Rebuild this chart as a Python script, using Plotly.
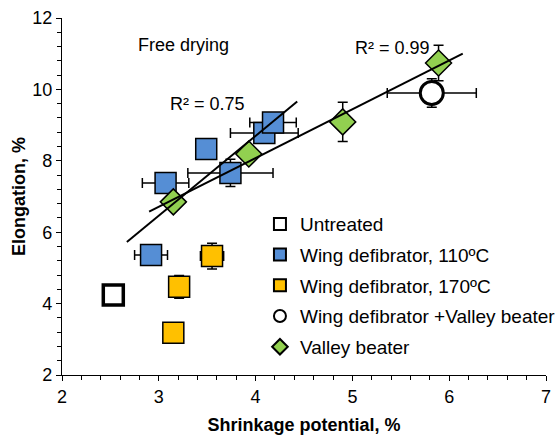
import numpy as np
import plotly.graph_objects as go

# ---- data ----
untreated_x = [2.53]
untreated_y = [4.24]

wd110_x = [2.92, 3.07, 3.49, 3.74, 4.09, 4.18]
wd110_y = [5.36, 7.38, 8.33, 7.66, 8.78, 9.07]
wd110_ex = [0.17, 0.24, 0.0, 0.44, 0.35, 0.24]
wd110_ey = [0.08, 0.25, 0.0, 0.38, 0.1, 0.1]

wd170_x = [3.55, 3.21, 3.15]
wd170_y = [5.33, 4.47, 3.18]
wd170_ex = [0.12, 0.05, 0.0]
wd170_ey = [0.36, 0.32, 0.0]

wdvb_x = [5.82]
wdvb_y = [9.90]
wdvb_ex = [0.46]
wdvb_ey = [0.40]

vb_x = [3.15, 3.93, 4.90, 5.89]
vb_y = [6.85, 8.19, 9.09, 10.74]
vb_ex = [0.0, 0.0, 0.0, 0.0]
vb_ey = [0.15, 0.15, 0.55, 0.50]

BLUE = "#558ED5"
YELLOW = "#FFC000"
GREEN = "#92D050"
FONT = "Liberation Sans, Arial, sans-serif"

fig = go.Figure()

def eb(arr):
    return dict(type="data", array=arr, visible=True, color="black", thickness=1.5, width=5)

fig.add_trace(go.Scatter(x=untreated_x, y=untreated_y, mode="markers", name="Untreated",
                         legendgroup="a",
                         marker=dict(symbol="square", size=20, color="white",
                                     line=dict(color="black", width=3.5))))
fig.add_trace(go.Scatter(x=wd110_x, y=wd110_y, mode="markers", name="Wing defibrator, 110ºC",
                         legendgroup="b", error_x=eb(wd110_ex), error_y=eb(wd110_ey),
                         marker=dict(symbol="square", size=21, color=BLUE,
                                     line=dict(color="black", width=1.5))))
fig.add_trace(go.Scatter(x=wd170_x, y=wd170_y, mode="markers", name="Wing defibrator, 170ºC",
                         legendgroup="c", error_x=eb(wd170_ex), error_y=eb(wd170_ey),
                         marker=dict(symbol="square", size=21, color=YELLOW,
                                     line=dict(color="black", width=1.5))))
fig.add_trace(go.Scatter(x=wdvb_x, y=wdvb_y, mode="markers", name="Wing defibrator +Valley beater",
                         legendgroup="d", error_x=eb(wdvb_ex), error_y=eb(wdvb_ey),
                         marker=dict(symbol="circle", size=23, color="white",
                                     line=dict(color="black", width=3))))
fig.add_trace(go.Scatter(x=vb_x, y=vb_y, mode="markers", name="Valley beater",
                         legendgroup="e", error_x=eb(vb_ex), error_y=eb(vb_ey),
                         marker=dict(symbol="diamond", size=20, color=GREEN,
                                     line=dict(color="black", width=1.5))))

# linear trendlines (extended 0.25 both ways)
for xs, ys in [(wd110_x, wd110_y), (vb_x, vb_y)]:
    k, b = np.polyfit(xs, ys, 1)
    lx = np.array([min(xs) - 0.25, max(xs) + 0.25])
    fig.add_trace(go.Scatter(x=lx, y=k * lx + b, mode="lines", showlegend=False,
                             line=dict(color="black", width=2), hoverinfo="skip"))

fig.add_annotation(x=2.76, y=11.24, text="Free drying", showarrow=False, xanchor="left",
                   font=dict(size=18, color="black", family=FONT))
fig.add_annotation(x=3.50, y=9.59, text="R² = 0.75", showarrow=False,
                   font=dict(size=18, color="black", family=FONT))
fig.add_annotation(x=5.41, y=11.16, text="R² = 0.99", showarrow=False,
                   font=dict(size=18, color="black", family=FONT))

axis_common = dict(showgrid=False, zeroline=False, showline=True, linecolor="black",
                   linewidth=1.3, ticks="outside", ticklen=5, tickcolor="black",
                   tickwidth=1.3, mirror=False,
                   tickfont=dict(size=18, color="black", family=FONT))

fig.update_xaxes(range=[2, 7], dtick=1, tick0=2,
                 minor=dict(dtick=0.2, ticks="outside", ticklen=4, tickcolor="black", tickwidth=1),
                 title=dict(text="<b>Shrinkage potential, %</b>", standoff=14,
                            font=dict(size=18, color="black", family=FONT)),
                 **axis_common)
fig.update_yaxes(range=[2, 12], dtick=2, tick0=2,
                 minor=dict(dtick=0.4, ticks="outside", ticklen=4, tickcolor="black", tickwidth=1),
                 title=dict(text="<b>Elongation, %</b>", standoff=1,
                            font=dict(size=18, color="black", family=FONT)),
                 **axis_common)

fig.update_layout(
    width=558, height=435,
    margin=dict(l=62, r=12, t=18, b=60, autoexpand=False),
    plot_bgcolor="white", paper_bgcolor="white",
    font=dict(family=FONT, color="black"),
    legend=dict(x=0.409, y=0.476, xanchor="left", yanchor="top",
                font=dict(size=19, color="black", family=FONT),
                bgcolor="rgba(0,0,0,0)", itemsizing="constant",
                traceorder="grouped", tracegroupgap=3, itemwidth=30),
)

fig.write_html("out.html")
